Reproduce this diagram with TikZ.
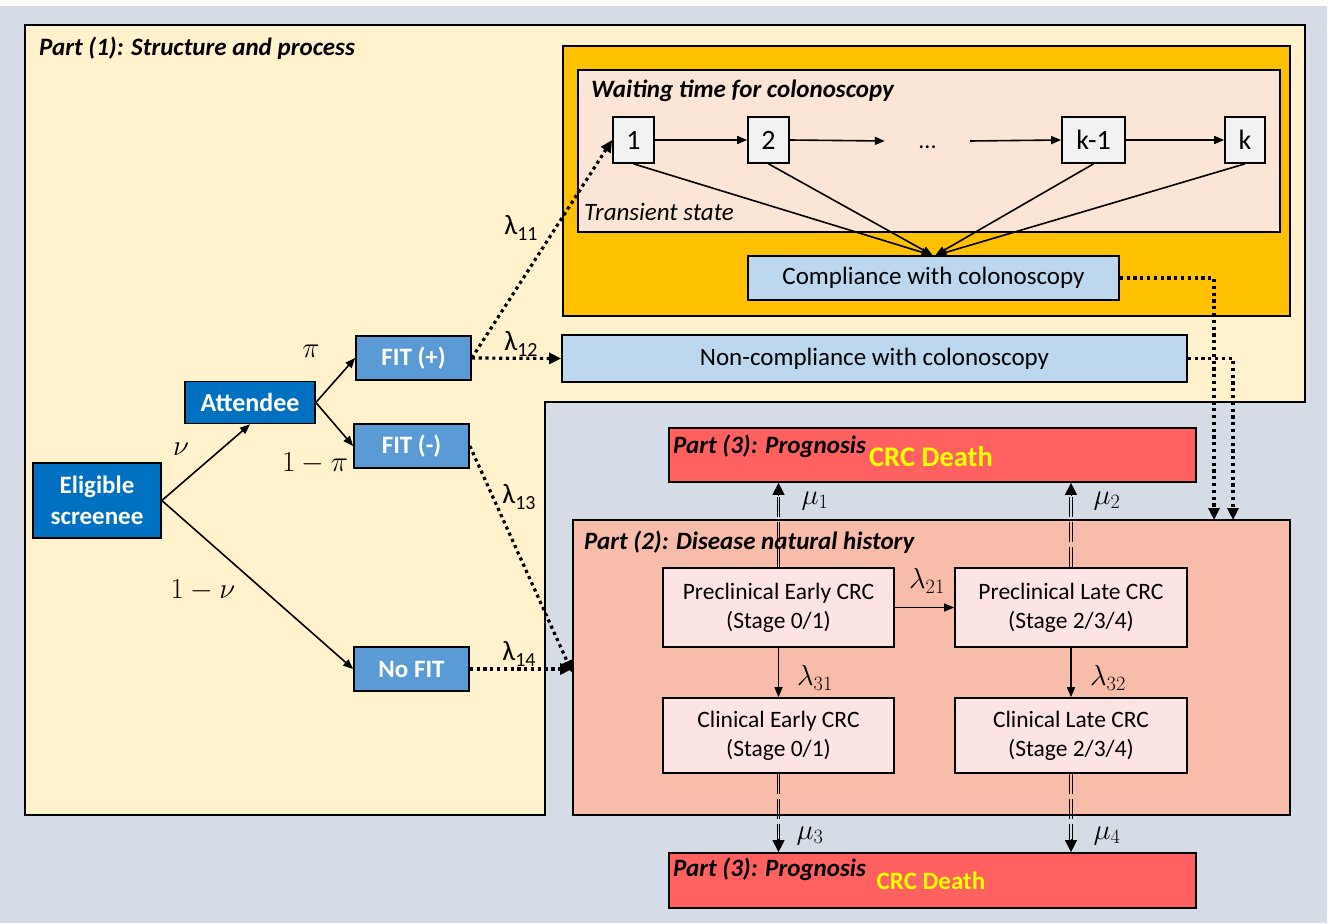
\RequirePackage{fix-cm}
\documentclass[tikz,border=0pt]{standalone}
\usepackage{fontspec}
\setmainfont{Carlito}
\usetikzlibrary{arrows.meta}

\definecolor{bggray}{HTML}{D6DCE5}
\definecolor{partone}{HTML}{FFF2CC}
\definecolor{waitorange}{HTML}{FFC000}
\definecolor{waitpeach}{HTML}{FBE5D6}
\definecolor{statebox}{HTML}{F2F2F2}
\definecolor{compblue}{HTML}{BDD7EE}
\definecolor{darkblue}{HTML}{0070C0}
\definecolor{fitblue}{HTML}{5B9BD5}
\definecolor{diseasebg}{HTML}{F8BCAB}
\definecolor{stagebox}{HTML}{FCE4E4}
\definecolor{prognred}{HTML}{FF6161}
\definecolor{deathyellow}{HTML}{FFFF00}

\newcommand{\fs}[1]{\fontsize{#1}{#1}\selectfont}
\newcommand{\lamtxt}[1]{\fs{28}λ\raisebox{-0.45ex}{\fs{20}#1}}

\tikzset{
  frame/.style={draw=black, line width=1.7pt},
  cbox/.style={frame, inner sep=0pt, align=center},
  titletext/.style={anchor=west, inner sep=0pt, font=\fs{25}\bfseries\itshape},
  decision/.style={cbox, fill=darkblue, text=white, font=\fs{26}\bfseries},
  fitbox/.style={cbox, fill=fitblue, text=white, font=\fs{25}\bfseries, minimum width=115pt, minimum height=44pt},
  stage/.style={cbox, fill=stagebox, font=\fontsize{23.5}{29}\selectfont, minimum width=231pt, align=center},
  waitstate/.style={cbox, fill=statebox, font=\fs{28}, minimum height=46pt},
  prognosis/.style={cbox, fill=prognred, minimum width=527pt},
  mathlbl/.style={inner sep=0pt, font=\fs{29}},
  solidarrow/.style={line width=1.6pt, -{Triangle[length=10pt,width=8pt]}},
  thinarrow/.style={line width=1pt, -{Triangle[length=10pt,width=8pt]}},
  dotarrow/.style={line width=3.2pt, dash pattern=on 3.2pt off 3.6pt, -{Triangle[length=12pt,width=11pt]}},
  dblline/.style={line width=0.9pt, dash pattern=on 20pt off 5pt},
  dbltip/.style={line width=0.9pt, -{Triangle[length=12pt,width=12pt]}},
}

\begin{document}
\begin{tikzpicture}[x=1pt,y=-1pt]
% canvas
\fill[bggray] (0,0) rectangle (1335,923);
\fill[white] (0,0) rectangle (1335,6);
\fill[white] (1327,0) rectangle (1335,923);
\useasboundingbox (0,0) rectangle (1335,923);

% Part (1): structure and process (L-shaped panel)
\draw[frame, fill=partone] (25,25) -- (1305,25) -- (1305,402) -- (545,402)
  -- (545,815) -- (25,815) -- cycle;
\node[titletext] (p1title) at (39,48) {Part (1): Structure and process};

% waiting time block
\node[frame, fill=waitorange, minimum width=727pt, minimum height=270pt, inner sep=0pt] (orange) at (926.5,181) {};
\node[frame, fill=waitpeach, minimum width=702pt, minimum height=162pt, inner sep=0pt] (wait) at (929,151) {};
\node[titletext] (waittitle) at (591,91) {Waiting time for colonoscopy};
\node[anchor=west, inner sep=0pt, font=\fs{25}\itshape] (transient) at (584,212) {Transient state};

\node[waitstate, minimum width=41pt] (s1) at (633.5,140) {1};
\node[waitstate, minimum width=41pt] (s2) at (768.5,140) {2};
\node[inner sep=0pt, minimum width=85pt, minimum height=20pt, font=\fs{24}] (sdots) at (927.5,141) {\raisebox{-1.3ex}{...}};
\node[waitstate, minimum width=63pt] (skm) at (1093.5,140) {k-1};
\node[waitstate, minimum width=40pt] (sk) at (1245,140) {k};

\node[cbox, fill=compblue, minimum width=371pt, minimum height=44pt, font=\fs{25}] (comp) at (933.5,278) {Compliance with colonoscopy};
\node[cbox, fill=compblue, minimum width=625pt, minimum height=47pt, font=\fs{25}] (noncomp) at (874.5,358.5) {Non-compliance with colonoscopy};

\draw[solidarrow] (s1.east) -- (s2.west);
\draw[solidarrow] (s2.east) -- (sdots.west);
\draw[solidarrow] (sdots.east) -- (skm.west);
\draw[solidarrow] (skm.east) -- (sk.west);
\draw[solidarrow] (s1.south) -- ([xshift=-2pt]comp.north);
\draw[solidarrow] (s2.south) -- ([xshift=-1pt]comp.north);
\draw[solidarrow] (skm.south) -- ([xshift=2pt]comp.north);
\draw[solidarrow] (sk.south) -- ([xshift=3pt]comp.north);

% screening decision tree
\node[decision, minimum width=128pt, minimum height=75pt, font=\fontsize{25}{31}\selectfont\bfseries] (elig) at (97,500.5) {Eligible\\screenee};
\node[decision, minimum width=130pt, minimum height=42pt] (att) at (250,402.5) {Attendee};
\node[fitbox] (fitp) at (413.5,358) {FIT (+)};
\node[fitbox] (fitm) at (411.5,446) {FIT (-)};
\node[fitbox] (nofit) at (411.5,669) {No FIT};

\draw[solidarrow] (elig.east) -- (att.south);
\draw[solidarrow] (elig.east) -- (nofit.west);
\draw[solidarrow] (att.east) -- (fitp.west);
\draw[solidarrow] (att.east) -- (fitm.west);

\node[mathlbl] (lnu) at (181,449) {$\nu$};
\node[mathlbl] (lnotnu) at (203,590) {$1-\nu$};
\node[mathlbl] (lpi) at (311,351) {$\pi$};
\node[mathlbl] (lnotpi) at (315,463) {$1-\pi$};

% Part (3): prognosis, upper bar
\node[prognosis, minimum height=54pt] (progtop) at (932.5,455) {};
\node[titletext] (progtoptitle) at (673,446) {Part (3): Prognosis};
\node[inner sep=0pt, text=deathyellow, font=\fs{28.5}\bfseries] (deathtop) at (931,457) {CRC Death};

% Part (2): disease natural history
\node[frame, fill=diseasebg, minimum width=717pt, minimum height=295pt, inner sep=0pt] (disease) at (931.5,667.5) {};
\node[titletext] (distitle) at (584,542) {Part (2): Disease natural history};
\node[stage, minimum height=79pt] (pe) at (778.5,607.5) {Preclinical Early CRC\\(Stage 0/1)};
\node[stage, minimum height=79pt, minimum width=232pt] (pl) at (1071,607.5) {Preclinical Late CRC\\(Stage 2/3/4)};
\node[stage, minimum height=75pt] (ce) at (778.5,735.5) {Clinical Early CRC\\(Stage 0/1)};
\node[stage, minimum height=75pt, minimum width=232pt] (cl) at (1071,735.5) {Clinical Late CRC\\(Stage 2/3/4)};

\draw[thinarrow] (pe.east) -- (pl.west);
\draw[solidarrow] (pe.south) -- (ce.north);
\draw[solidarrow] (pl.south) -- (cl.north);
\node[mathlbl] (l21) at (927,581) {$\lambda_{21}$};
\node[mathlbl] (l31) at (815,678) {$\lambda_{31}$};
\node[mathlbl] (l32) at (1108,678) {$\lambda_{32}$};

% Part (3): prognosis, lower bar
\node[prognosis, minimum height=55pt] (progbot) at (932.5,880.5) {};
\node[titletext] (progbottitle) at (673,869) {Part (3): Prognosis};
\node[inner sep=0pt, text=deathyellow, font=\fs{25}\bfseries] (deathbot) at (931,881) {CRC Death};

% transitions to CRC death: paired dashed rails with a solid tip
\foreach \src/\dst/\sgn in {pe.north/progtop.south/-1, pl.north/progtop.south/-1,
                           ce.south/progbot.north/1, cl.south/progbot.north/1}{
  \draw[dblline] ([xshift=-1.4pt]\src) -- ([xshift=-1.4pt,yshift=\sgn*8pt]\src |- \dst);
  \draw[dblline] ([xshift=1.4pt]\src) -- ([xshift=1.4pt,yshift=\sgn*8pt]\src |- \dst);
  \draw[dbltip] ([yshift=\sgn*13pt]\src |- \dst) -- (\src |- \dst);
}
\node[mathlbl] (m1) at (815,501) {$\mu_1$};
\node[mathlbl] (m2) at (1107,501) {$\mu_2$};
\node[mathlbl] (m3) at (810,836) {$\mu_3$};
\node[mathlbl] (m4) at (1107,836) {$\mu_4$};

% screening outcomes to the next stage
\coordinate (compin) at (1214,520);
\coordinate (noncompin) at (1233,520);
\draw[dotarrow] (fitp.east) -- (s1.west);
\draw[dotarrow] (fitp.east) -- (noncomp.west);
\draw[dotarrow] (fitm.east) -- ([yshift=-5pt]disease.west);
\draw[dotarrow] (nofit.east) -- (nofit.east -| disease.west);
\draw[dotarrow] (comp.east) -| (compin);
\draw[dotarrow] (noncomp.east) -| (noncompin);

\node[inner sep=0pt] (l11) at (521,228) {\lamtxt{11}};
\node[inner sep=0pt] (l12) at (521,344) {\lamtxt{12}};
\node[inner sep=0pt] (l13) at (519,497) {\lamtxt{13}};
\node[inner sep=0pt] (l14) at (519,654) {\lamtxt{14}};
\end{tikzpicture}
\end{document}
